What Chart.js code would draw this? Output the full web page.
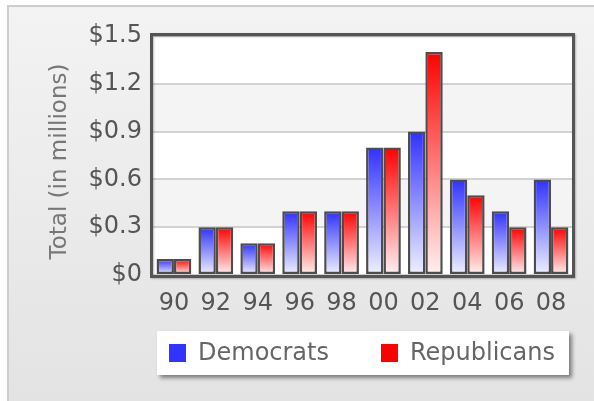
<!DOCTYPE html>
<html>
<head>
<meta charset="utf-8">
<script src="https://cdn.jsdelivr.net/npm/chart.js@4/dist/chart.umd.min.js"></script>
<style>
  html, body { margin: 0; padding: 0; background: #fff; }
  #wrap { position: relative; width: 594px; height: 401px; }
</style>
</head>
<body>
<div id="wrap"><canvas id="c" width="594" height="401"></canvas></div>
<script>
// Election cycles (two-digit years)
const years = ['90', '92', '94', '96', '98', '00', '02', '04', '06', '08'];
// Contributions, in millions of dollars
const democrats   = [0.1, 0.3, 0.2, 0.4, 0.4, 0.8, 0.9, 0.6, 0.4, 0.6];
const republicans = [0.1, 0.3, 0.2, 0.4, 0.4, 0.8, 1.4, 0.5, 0.3, 0.3];
// Value axis ticks
const yTicks = [0, 0.3, 0.6, 0.9, 1.2, 1.5];
const yTitle = 'Total (in millions)';

const FONT = '"DejaVu Sans", Verdana, sans-serif';
const FONT_SIZE = 24;

// Vertical gradient per bar: saturated at the top, fading to near white at the base
function barFill(topColor, bottomColor) {
  return (ctx) => {
    const chart = ctx.chart;
    const y = chart.scales && chart.scales.y;
    if (!chart.chartArea || !y || !ctx.parsed) return topColor;
    const yTop = y.getPixelForValue(ctx.parsed.y);
    const yBase = y.getPixelForValue(0);
    const g = chart.ctx.createLinearGradient(0, yTop, 0, yBase);
    g.addColorStop(0, topColor);
    g.addColorStop(1, bottomColor);
    return g;
  };
}

const frame = {
  id: 'frame',
  beforeDraw(chart) {
    const { ctx, chartArea: a, scales } = chart;
    const W = chart.width, H = chart.height;
    ctx.save();
    ctx.fillStyle = '#ffffff';
    ctx.fillRect(0, 0, W, H);
    // panel background
    const bg = ctx.createLinearGradient(0, 5, 0, H);
    bg.addColorStop(0, '#f3f3f3');
    bg.addColorStop(1, '#e3e3e3');
    ctx.fillStyle = bg;
    ctx.fillRect(7, 5, W - 7, H - 5);
    ctx.strokeStyle = '#cdcdcd';
    ctx.lineWidth = 2;
    ctx.beginPath();
    ctx.moveTo(8, H);
    ctx.lineTo(8, 6);
    ctx.lineTo(W, 6);
    ctx.stroke();
    // plot area with alternating bands
    ctx.fillStyle = '#ffffff';
    ctx.fillRect(a.left, a.top, a.width, a.height);
    const y = scales.y;
    ctx.fillStyle = '#f4f4f4';
    for (let i = 1; i < yTicks.length - 1; i += 2) {
      const y0 = y.getPixelForValue(yTicks[i]);
      const y1 = y.getPixelForValue(yTicks[i + 1]);
      ctx.fillRect(a.left, y1, a.width, y0 - y1);
    }
    ctx.restore();
  },
  afterDatasetsDraw(chart) {
    const { ctx, chartArea: a } = chart;
    ctx.save();
    ctx.strokeStyle = '#555555';
    ctx.lineWidth = 3;
    ctx.shadowColor = 'rgba(0,0,0,0.25)';
    ctx.shadowBlur = 2;
    ctx.shadowOffsetX = 1;
    ctx.shadowOffsetY = 1;
    ctx.strokeRect(a.left - 1.5, a.top - 1.5, a.width + 3, a.height + 3);
    ctx.restore();
  },
  afterDraw(chart) {
    const { ctx, chartArea: a } = chart;
    ctx.save();
    // axis title
    ctx.translate(60, (a.top + a.bottom) / 2 + 6);
    ctx.rotate(-Math.PI / 2);
    ctx.font = (FONT_SIZE - 1) + 'px ' + FONT;
    ctx.fillStyle = '#777777';
    ctx.textAlign = 'center';
    ctx.textBaseline = 'middle';
    ctx.fillText(yTitle, 0, 0);
    ctx.restore();

    // legend box
    const bx = a.left + 4, by = a.bottom + 56, bw = a.width - 7, bh = 44;
    ctx.save();
    ctx.shadowColor = 'rgba(0,0,0,0.45)';
    ctx.shadowBlur = 4;
    ctx.shadowOffsetX = 3;
    ctx.shadowOffsetY = 3;
    ctx.fillStyle = '#ffffff';
    ctx.fillRect(bx, by, bw, bh);
    ctx.restore();

    ctx.save();
    ctx.font = FONT_SIZE + 'px ' + FONT;
    ctx.textBaseline = 'middle';
    ctx.textAlign = 'left';
    const cy = by + bh / 2;
    let x = bx + 12;
    chart.data.datasets.forEach((ds) => {
      ctx.fillStyle = ds.legendColor;
      ctx.fillRect(x, cy - 9, 17, 18);
      ctx.fillStyle = '#666666';
      ctx.fillText(ds.label, x + 29, cy + 1);
      x += 29 + ctx.measureText(ds.label).width + 52;
    });
    ctx.restore();
  }
};

new Chart(document.getElementById('c'), {
  type: 'bar',
  data: {
    labels: years,
    datasets: [
      {
        label: 'Democrats',
        data: democrats,
        legendColor: '#3333ff',
        backgroundColor: barFill('#3030ff', '#f0f2ff'),
        borderColor: '#4d4d4d',
        borderWidth: 2.5,
        borderSkipped: false
      },
      {
        label: 'Republicans',
        data: republicans,
        legendColor: '#ff0000',
        backgroundColor: barFill('#ff0000', '#fff2f2'),
        borderColor: '#4d4d4d',
        borderWidth: 2.5,
        borderSkipped: false
      }
    ]
  },
  options: {
    responsive: false,
    animation: false,
    devicePixelRatio: 1,
    layout: { padding: { left: 0, top: 36, right: 22, bottom: 86 } },
    datasets: { bar: { categoryPercentage: 0.83, barPercentage: 1.0 } },
    plugins: {
      legend: { display: false },
      tooltip: { enabled: false }
    },
    scales: {
      x: {
        grid: { display: false, drawTicks: false },
        border: { display: false },
        ticks: {
          color: '#555555',
          font: { family: FONT, size: FONT_SIZE },
          padding: 14,
          maxRotation: 0,
          autoSkip: false
        },
        afterFit(scale) { scale.height = 40; }
      },
      y: {
        min: 0,
        max: 1.5,
        afterBuildTicks(scale) { scale.ticks = yTicks.map(v => ({ value: v })); },
        grid: { color: '#d2d2d2', lineWidth: 2, drawTicks: false },
        border: { display: false },
        ticks: {
          color: '#555555',
          font: { family: FONT, size: FONT_SIZE },
          padding: 11,
          callback: (v) => v === 0 ? '$0' : '$' + Number(v).toFixed(1)
        },
        afterFit(scale) { scale.width = 153; }
      }
    }
  },
  plugins: [frame]
});
</script>
</body>
</html>
